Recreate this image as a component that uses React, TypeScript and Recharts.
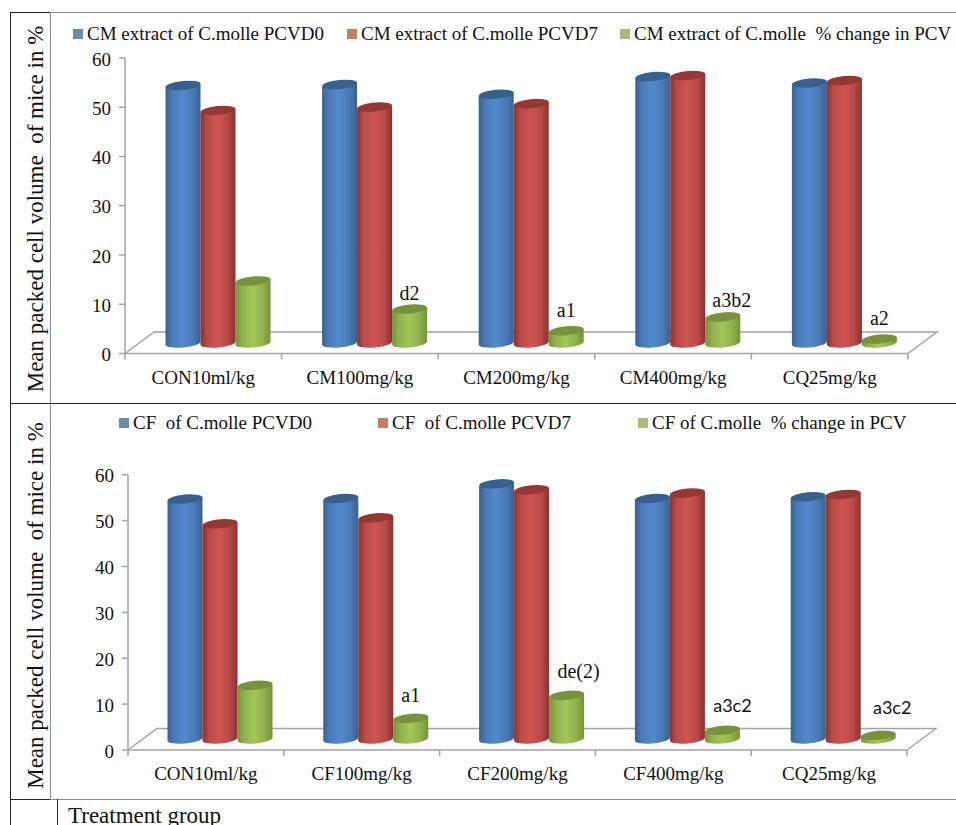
import { BarChart, Bar, XAxis, YAxis, Legend, LabelList, usePlotArea } from "recharts";

// top panel: CM extract
const cmGroups = ["CON10ml/kg", "CM100mg/kg", "CM200mg/kg", "CM400mg/kg", "CQ25mg/kg"];
const cmDay0 = [52.3, 52.5, 50.5, 54.1, 52.8];
const cmDay7 = [47.2, 47.9, 48.6, 54.3, 53.3];
const cmChange = [12.6, 6.9, 2.5, 5.3, 0.8];
const cmNotes = ["", "d2", "a1", "a3b2", "a2"];
const cmNames = ["CM extract of C.molle PCVD0", "CM extract of C.molle PCVD7", "CM extract of C.molle  % change in PCV"];

// bottom panel: CF
const cfGroups = ["CON10ml/kg", "CF100mg/kg", "CF200mg/kg", "CF400mg/kg", "CQ25mg/kg"];
const cfDay0 = [52.3, 52.4, 55.6, 52.4, 52.8];
const cfDay7 = [46.9, 48.2, 54.3, 53.6, 53.3];
const cfChange = [11.7, 4.5, 9.5, 1.9, 0.8];
const cfNotes = ["", "a1", "de(2)", "a3c2", "a3c2"];
const cfNames = ["CF  of C.molle PCVD0", "CF  of C.molle PCVD7", "CF of C.molle  % change in PCV"];

const yTicks = [0, 10, 20, 30, 40, 50, 60];
const yTitle = "Mean packed cell volume  of mice in %";

const SERIF = "'Liberation Serif', serif";
const AXIS_GREY = "#a3a3a3";
const INK = "#111";
const LEGEND_COLORS = ["#6a8ab3", "#c17f6b", "#a9ba7a"];
const TILT = -5.4;
const SHIFT_X = 14.5;

function toRows(groups: string[], d0: number[], d7: number[], change: number[], notes: string[]) {
  return groups.map((group, i) => ({ group, d0: d0[i], d7: d7[i], change: change[i], note: notes[i] }));
}

// fake-3D cylinder, shifted back onto the floor of the chart
function cylinder(prefix: string, kind: string, top: string, lift: number) {
  return (props: any) => {
    const { x, y, width, height } = props;
    const left = x + SHIFT_X;
    const right = left + width;
    const yTop = y - lift;
    const yBase = y + height - lift;
    const rx = width / 2;
    const ry = 4.5;
    const d = `M${left},${yTop + 1.7} L${left},${yBase + 1.7} A${rx},${ry} ${TILT} 0 0 ${right},${yBase - 1.7} L${right},${yTop - 1.7} Z`;
    return (
      <g>
        <path d={d} fill={`url(#${prefix}-${kind})`} />
        <ellipse
          cx={left + rx}
          cy={yTop}
          rx={rx}
          ry={ry}
          fill={top}
          transform={`rotate(${TILT} ${left + rx} ${yTop})`}
        />
      </g>
    );
  };
}

function Gradients({ prefix }: { prefix: string }) {
  const stops: [string, string, string, string][] = [
    ["blue", "#3a618f", "#5389cd", "#4a7ab5"],
    ["red", "#873331", "#cf5451", "#b84a48"],
    ["green", "#76923c", "#a3c659", "#8fb04c"],
  ];
  return (
    <defs>
      {stops.map(([name, edge, mid, side]) => (
        <linearGradient key={name} id={`${prefix}-${name}`} x1="0" y1="0" x2="1" y2="0">
          <stop offset="0%" stopColor={edge} />
          <stop offset="18%" stopColor={side} />
          <stop offset="48%" stopColor={mid} />
          <stop offset="78%" stopColor={side} />
          <stop offset="100%" stopColor={edge} />
        </linearGradient>
      ))}
    </defs>
  );
}

function Floor({ depthX, depthY }: { depthX: number; depthY: number }) {
  const plot = usePlotArea();
  if (!plot) return null;
  const bottom = plot.y + plot.height;
  const x0 = plot.x;
  const x1 = plot.x + plot.width;
  return (
    <path
      d={`M${x0},${bottom} L${x0 + depthX},${bottom - depthY} L${x1 + depthX},${bottom - depthY} L${x1},${bottom}`}
      fill="none"
      stroke={AXIS_GREY}
      strokeWidth={1.5}
    />
  );
}

function GroupTick(props: any) {
  const { x, y, payload, index, band, count } = props;
  const y0 = y - 8;
  return (
    <g>
      <line x1={x - band / 2} x2={x - band / 2} y1={y0} y2={y0 + 6} stroke={AXIS_GREY} strokeWidth={1.5} />
      {index === count - 1 && (
        <line x1={x + band / 2} x2={x + band / 2} y1={y0} y2={y0 + 6} stroke={AXIS_GREY} strokeWidth={1.5} />
      )}
      <text x={x} y={y0 + 30} textAnchor="middle" fontFamily={SERIF} fontSize={19} fill={INK}>
        {payload.value}
      </text>
    </g>
  );
}

function legendContent(swatches: number[], top: number) {
  return (props: any) => (
    <div style={{ position: "relative", height: 0 }}>
      {props.payload.map((item: any, i: number) => (
        <div key={item.value}>
          <span
            style={{
              position: "absolute",
              left: swatches[i],
              top: top + 5,
              width: 10,
              height: 10,
              background: LEGEND_COLORS[i],
            }}
          />
          <span
            style={{
              position: "absolute",
              left: swatches[i] + 14,
              top,
              whiteSpace: "pre",
              fontFamily: SERIF,
              fontSize: 19,
              lineHeight: "19px",
              color: INK,
            }}
          >
            {item.value}
          </span>
        </div>
      ))}
    </div>
  );
}

function noteContent(lift: number, nudgeX: number[], nudgeY: number[], sans: boolean[]) {
  return (props: any) => {
    const { x, y, width, value, index } = props;
    if (!value) return null;
    return (
      <text
        x={x + width / 2 + SHIFT_X + nudgeX[index]}
        y={y - lift + nudgeY[index]}
        textAnchor="middle"
        fontFamily={sans[index] ? "Lato, sans-serif" : SERIF}
        fontSize={sans[index] ? 18 : 20}
        fill={INK}
      >
        {value}
      </text>
    );
  };
}

function Panel(props: any) {
  const { prefix, rows, names, top, height, plotTop, plotBottom, plotLeft, plotRight, lift, swatches, legendTop, titleY } = props;
  const band = (plotRight - plotLeft) / rows.length;
  return (
    <div style={{ position: "absolute", left: 0, top }}>
      <BarChart
        width={956}
        height={height}
        data={rows}
        barSize={35}
        barGap={0}
        margin={{ top: plotTop, right: 956 - plotRight, bottom: 0, left: plotLeft - 40 }}
      >
        <Gradients prefix={prefix} />
        <Floor depthX={29} depthY={21.5} />
        <XAxis
          dataKey="group"
          height={height - plotBottom}
          interval={0}
          tickLine={false}
          stroke={AXIS_GREY}
          strokeWidth={1.5}
          tick={<GroupTick band={band} count={rows.length} />}
        />
        <YAxis
          width={40}
          domain={[0, 60]}
          ticks={yTicks}
          interval={0}
          tickSize={6}
          tickMargin={8}
          stroke={AXIS_GREY}
          strokeWidth={1.5}
          tick={{ fontFamily: SERIF, fontSize: 19, fill: INK, dy: 1 }}
        />
        <Legend
          verticalAlign="top"
          itemSorter={null}
          wrapperStyle={{ left: 0, top: 0, width: 956, height: 0, margin: 0 }}
          content={legendContent(swatches, legendTop)}
        />
        <Bar dataKey="d0" name={names[0]} fill="#4f81bd" isAnimationActive={false} shape={cylinder(prefix, "blue", "#37608e", lift)} />
        <Bar dataKey="d7" name={names[1]} fill="#c0504d" isAnimationActive={false} shape={cylinder(prefix, "red", "#953735", lift)} />
        <Bar dataKey="change" name={names[2]} fill="#9bbb59" isAnimationActive={false} shape={cylinder(prefix, "green", "#76923c", lift)}>
          <LabelList dataKey="note" content={noteContent(lift, props.noteX, props.noteY, props.noteSans)} />
        </Bar>
        <text
          transform={`translate(43 ${titleY}) rotate(-90)`}
          textAnchor="middle"
          fontFamily={SERIF}
          fontSize={23}
          fill={INK}
          style={{ whiteSpace: "pre" }}
        >
          {yTitle}
        </text>
      </BarChart>
    </div>
  );
}

function Rule({ x, y, w, h, color }: { x: number; y: number; w: number; h: number; color: string }) {
  return <div style={{ position: "absolute", left: x, top: y, width: w, height: h, background: color }} />;
}

export default function App() {
  return (
    <div style={{ position: "fixed", left: 0, top: 0, width: 956, height: 825, background: "#fff", overflow: "hidden" }}>
      <Panel
        prefix="cm"
        rows={toRows(cmGroups, cmDay0, cmDay7, cmChange, cmNotes)}
        names={cmNames}
        top={0}
        height={403}
        plotTop={58}
        plotBottom={353.5}
        plotLeft={125}
        plotRight={908}
        lift={10.5}
        swatches={[73, 347, 620]}
        legendTop={24}
        titleY={209}
        noteX={[0, 0, 0, 9, 0]}
        noteY={[0, -9, -14, -10, -14]}
        noteSans={[false, false, false, false, false]}
      />
      <Panel
        prefix="cf"
        rows={toRows(cfGroups, cfDay0, cfDay7, cfChange, cfNotes)}
        names={cfNames}
        top={404}
        height={395}
        plotTop={70.7}
        plotBottom={346}
        plotLeft={128}
        plotRight={907}
        lift={11}
        swatches={[119, 378, 638]}
        legendTop={9}
        titleY={201.5}
        noteX={[0, 0, 12, 10, 14]}
        noteY={[0, -16, -17, -18, -21]}
        noteSans={[false, false, false, true, true]}
      />
      {/* table rules of the page the figure was cut from */}
      <Rule x={10} y={12} w={40} h={1} color="#222" />
      <Rule x={50} y={12} w={906} h={1} color="#8c8c8c" />
      <Rule x={10} y={12} w={1} h={813} color="#222" />
      <Rule x={50} y={12} w={1} h={787} color="#8c8c8c" />
      <Rule x={10} y={403} w={946} h={1} color="#222" />
      <Rule x={10} y={799} w={40} h={1} color="#222" />
      <Rule x={50} y={799} w={906} h={1} color="#8c8c8c" />
      <Rule x={57} y={799} w={1} h={26} color="#222" />
      <div
        style={{
          position: "absolute",
          left: 68,
          top: 803,
          fontFamily: SERIF,
          fontSize: 23,
          lineHeight: "26px",
          color: INK,
          whiteSpace: "pre",
        }}
      >
        Treatment group
      </div>
    </div>
  );
}
